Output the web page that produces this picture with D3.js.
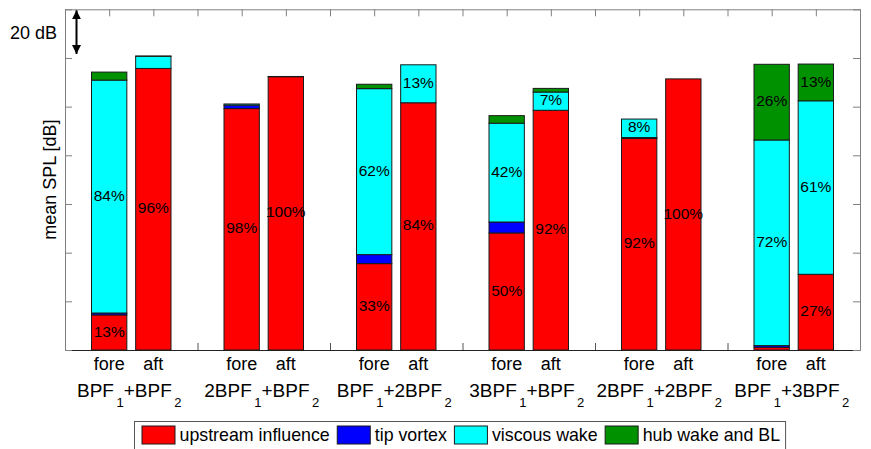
<!DOCTYPE html>
<html>
<head>
<meta charset="utf-8">
<script src="https://cdn.jsdelivr.net/npm/d3@7"></script>
<style>
body { margin: 0; background: #fff; }
text { font-family: "Liberation Sans", Arial, sans-serif; fill: #000; }
</style>
</head>
<body>
<script>
// tone combinations, two rotor positions each
var categories = ["BPF_1+BPF_2", "2BPF_1+BPF_2", "BPF_1+2BPF_2", "3BPF_1+BPF_2", "2BPF_1+2BPF_2", "BPF_1+3BPF_2"];
var positions = ["fore", "aft"];

var seriesNames = ["upstream influence", "tip vortex", "viscous wake", "hub wake and BL"];
var seriesColors = ["#ff0000", "#0000ff", "#00ffff", "#009100"];

// stacked segment heights in dB, order: fore, aft for each category
var upstream    = [14.4, 115.7, 99.2, 112.3, 35.5, 101.6, 48.1, 98.5, 86.9, 111.4, 1.1, 31.1];
var tipVortex   = [0.8, 0, 1.4, 0, 3.7, 0, 4.5, 0, 0.4, 0, 0.7, 0];
var viscousWake = [95.7, 5.0, 0.5, 0, 68.2, 15.6, 40.6, 7.5, 7.6, 0, 84.5, 71.3];
var hubWake     = [3.3, 0.1, 0, 0.1, 1.8, 0, 3.1, 1.5, 0, 0, 31.1, 15.1];

// percentage annotations per segment
var upstreamPct = ["13%", "96%", "98%", "100%", "33%", "84%", "50%", "92%", "92%", "100%", "", "27%"];
var tipPct      = ["", "", "", "", "", "", "", "", "", "", "", ""];
var viscousPct  = ["84%", "", "", "", "62%", "13%", "42%", "7%", "8%", "", "72%", "61%"];
var hubPct      = ["", "", "", "", "", "", "", "", "", "", "26%", "13%"];

var yTicks = [0, 20, 40, 60, 80, 100, 120, 140];
var arrowSpan = [140, 120];
var arrowLabel = "20 dB";
var yLabel = "mean SPL [dB]";

const width = 871;
const height = 449;

const x = d3.scaleLinear().domain([0, 18]).range([65, 860]);
const y = d3.scaleLinear().domain([0, 140]).range([350, 9.3]);

const svg = d3.select("body").append("svg")
    .attr("width", width)
    .attr("height", height);

// ticks every unit along x (hidden under bars where bars stand)
const xTicks = d3.range(0, 19);

const axisCol = "#808080";

const bottomAxis = svg.append("g")
    .attr("transform", `translate(0, ${y(0)})`)
    .call(d3.axisBottom(x).tickValues(xTicks).tickSize(-7).tickSizeOuter(0).tickFormat(""));
const topAxis = svg.append("g")
    .attr("transform", `translate(0, ${y(140)})`)
    .call(d3.axisTop(x).tickValues(xTicks).tickSize(-7).tickSizeOuter(0).tickFormat(""));
const leftAxis = svg.append("g")
    .attr("transform", `translate(${x(0)}, 0)`)
    .call(d3.axisLeft(y).tickValues(yTicks).tickSize(-7).tickSizeOuter(0).tickFormat(""));
const rightAxis = svg.append("g")
    .attr("transform", `translate(${x(18)}, 0)`)
    .call(d3.axisRight(y).tickValues(yTicks).tickSize(-7).tickSizeOuter(0).tickFormat(""));

[topAxis, leftAxis, rightAxis].forEach(function (g) {
    g.selectAll("path, line").attr("stroke", axisCol);
});
bottomAxis.selectAll("line").attr("stroke", "#555");
bottomAxis.select("path").attr("stroke", "#222");

// stacked bars
const keys = ["up", "tip", "visc", "hub"];
const table = upstream.map(function (v, i) {
    return {
        up: v, tip: tipVortex[i], visc: viscousWake[i], hub: hubWake[i],
        xPos: Math.floor(i / 2) * 3 + 1 + (i % 2),
        idx: i
    };
});
const stacked = d3.stack().keys(keys)(table);
const pctArrays = [upstreamPct, tipPct, viscousPct, hubPct];
const barHalf = 0.4;

const layers = svg.append("g").selectAll("g")
    .data(stacked)
    .join("g")
    .attr("fill", function (d, k) { return seriesColors[k]; });

layers.selectAll("rect")
    .data(function (d) { return d.filter(function (s) { return s[1] - s[0] > 0; }); })
    .join("rect")
    .attr("x", function (d) { return x(d.data.xPos - barHalf); })
    .attr("width", function (d) { return x(d.data.xPos + barHalf) - x(d.data.xPos - barHalf); })
    .attr("y", function (d) { return y(d[1]); })
    .attr("height", function (d) { return y(d[0]) - y(d[1]); })
    .attr("stroke", "#1a1a1a")
    .attr("stroke-width", 1);

// percent labels
stacked.forEach(function (layer, k) {
    svg.append("g").selectAll("text")
        .data(layer.filter(function (s) { return pctArrays[k][s.data.idx] !== ""; }))
        .join("text")
        .attr("x", function (d) { return x(d.data.xPos); })
        .attr("y", function (d) { return y((d[0] + d[1]) / 2); })
        .attr("text-anchor", "middle")
        .attr("dominant-baseline", "middle")
        .style("font-size", "15.5px")
        .text(function (d) { return pctArrays[k][d.data.idx]; });
});

// fore / aft labels
svg.append("g").selectAll("text")
    .data(table)
    .join("text")
    .attr("x", function (d) { return x(d.xPos); })
    .attr("y", 370)
    .attr("text-anchor", "middle")
    .style("font-size", "18px")
    .text(function (d) { return positions[d.idx % 2]; });

// category labels with subscripts
categories.forEach(function (c, g) {
    const parts = c.split(/_(\d)/);
    const t = svg.append("text")
        .attr("x", x(g * 3 + 1.5) - 2)
        .attr("y", 397)
        .attr("text-anchor", "middle")
        .style("font-size", "19px");
    parts.forEach(function (p, j) {
        if (p === "") return;
        if (j % 2 === 1) {
            t.append("tspan").attr("dx", 2.5).attr("dy", 10).style("font-size", "13px").text(p);
        } else {
            t.append("tspan").attr("dy", j > 0 ? -10 : 0).text(p);
        }
    });
});

// y label
svg.append("text")
    .attr("transform", `translate(56, ${(y(0) + y(140)) / 2}) rotate(-90)`)
    .attr("text-anchor", "middle")
    .style("font-size", "18px")
    .text(yLabel);

// 20 dB arrow
const defs = svg.append("defs");
defs.append("marker")
    .attr("id", "ah")
    .attr("viewBox", "0 0 10 10")
    .attr("refX", 10).attr("refY", 5)
    .attr("markerWidth", 4.5).attr("markerHeight", 4.5)
    .attr("markerUnits", "strokeWidth")
    .attr("orient", "auto-start-reverse")
    .append("path").attr("d", "M0,0 L10,5 L0,10 Z").attr("fill", "#000");

const ax = x(0) + 11.5;
svg.append("line")
    .attr("x1", ax).attr("x2", ax)
    .attr("y1", y(arrowSpan[0]) + 1).attr("y2", y(arrowSpan[1]) - 4)
    .attr("stroke", "#000").attr("stroke-width", 2)
    .attr("marker-start", "url(#ah)")
    .attr("marker-end", "url(#ah)");

svg.append("text")
    .attr("x", 57).attr("y", 39)
    .attr("text-anchor", "end")
    .style("font-size", "18px")
    .text(arrowLabel);

// legend
const legend = svg.append("g");
const box = legend.append("rect")
    .attr("fill", "#fff").attr("stroke", "#555").attr("stroke-width", 1);
let lx = 142;
seriesNames.forEach(function (name, k) {
    legend.append("rect")
        .attr("x", lx).attr("y", 426)
        .attr("width", 33).attr("height", 18)
        .attr("fill", seriesColors[k])
        .attr("stroke", "#1a1a1a");
    const t = legend.append("text")
        .attr("x", lx + 37.5).attr("y", 441)
        .style("font-size", "17.8px")
        .text(name);
    lx = lx + 37.5 + t.node().getComputedTextLength() + 7.5;
});
box.attr("x", 134.5).attr("y", 421.5)
    .attr("width", lx - 7.5 + 5.5 - 134.5)
    .attr("height", 30);
</script>
</body>
</html>
